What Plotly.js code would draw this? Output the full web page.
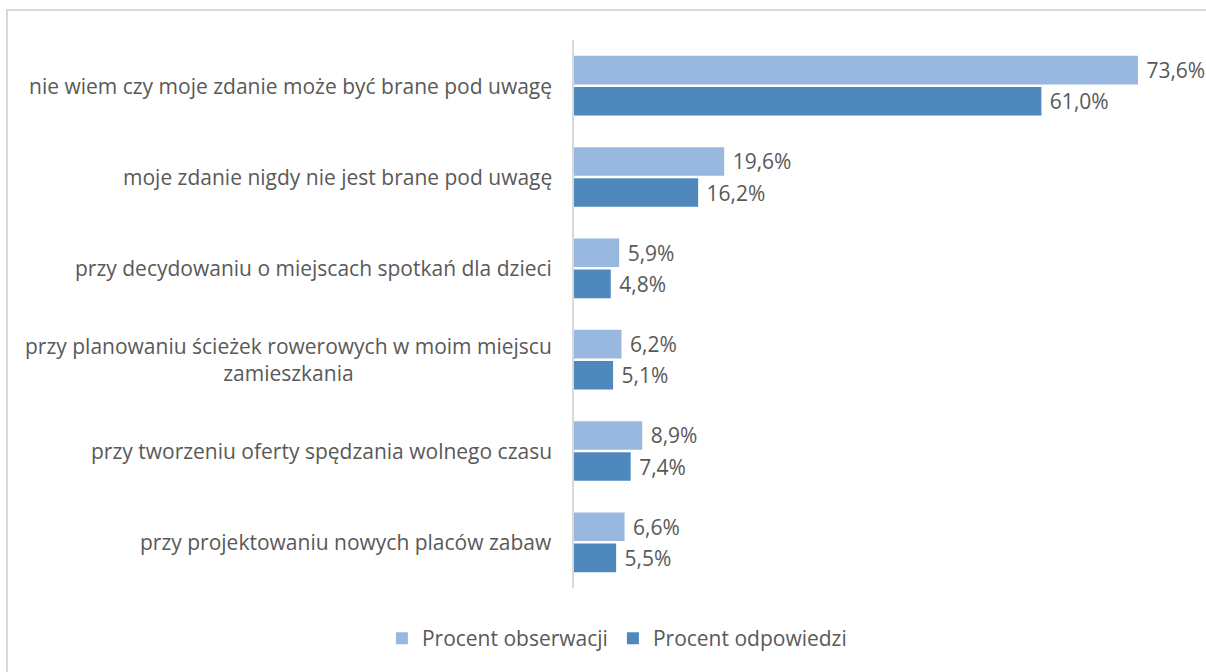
<!DOCTYPE html>
<html>
<head>
<meta charset="utf-8">
<script src="https://cdn.plot.ly/plotly-3.0.1.min.js"></script>
<style>
  html, body { margin: 0; padding: 0; background: #ffffff; overflow: hidden; }
  #frame { position: absolute; left: 6px; top: 9px; width: 1260px; height: 720px; border: 2px solid #d9d9d9; box-sizing: border-box; }
  #chart { position: absolute; left: 0; top: 0; width: 1206px; height: 672px; }
</style>
</head>
<body>
<div id="frame"></div>
<div id="chart"></div>
<script>
const categories = [
  "nie wiem czy moje zdanie może być brane pod uwagę",
  "moje zdanie nigdy nie jest brane pod uwagę",
  "przy decydowaniu o miejscach spotkań dla dzieci",
  "przy planowaniu ścieżek rowerowych w moim miejscu<br>zamieszkania",
  "przy tworzeniu oferty spędzania wolnego czasu",
  "przy projektowaniu nowych placów zabaw"
];
const seriesNames = ["Procent obserwacji", "Procent odpowiedzi"];
const obserwacji = [73.6, 19.6, 5.9, 6.2, 8.9, 6.6];
const odpowiedzi = [61.0, 16.2, 4.8, 5.1, 7.4, 5.5];
const colors = ["#98B8E0", "#4F88BD"];

const fmt = v => "\u00a0" + v.toFixed(1).replace(".", ",") + "%";
const textFont = { family: "Open Sans, Lato, sans-serif", size: 21, color: "#595959" };

function barTrace(name, vals, color) {
  return {
    type: "bar", orientation: "h", name: name,
    y: categories, x: vals,
    marker: { color: color },
    text: vals.map(fmt), textposition: "outside",
    textfont: textFont, cliponaxis: false, constraintext: "none",
    hoverinfo: "skip"
  };
}

const data = [
  barTrace(seriesNames[0], obserwacji, colors[0]),
  barTrace(seriesNames[1], odpowiedzi, colors[1])
];

const annotations = categories.map(c => ({
  xref: "paper", yref: "y", x: 0, y: c,
  xanchor: "right", yanchor: "middle", xshift: -20,
  text: c, showarrow: false, align: "center",
  font: textFont
}));

const layout = {
  width: 1206, height: 672,
  paper_bgcolor: "rgba(0,0,0,0)", plot_bgcolor: "rgba(0,0,0,0)",
  margin: { l: 574, r: 19, t: 40, b: 84, autoexpand: false },
  barmode: "group", bargap: 0.32, bargroupgap: 0.08,
  font: textFont,
  xaxis: { range: [0, 80], showgrid: false, zeroline: false, showticklabels: false, showline: false, fixedrange: true },
  yaxis: { autorange: "reversed", showticklabels: false, showgrid: false, zeroline: false,
           showline: true, linecolor: "#d9d9d9", linewidth: 2, ticks: "", type: "category" },
  showlegend: true,
  legend: { orientation: "h", x: 0.07, xanchor: "center", y: -0.055, yanchor: "top",
            font: textFont, traceorder: "normal", itemwidth: 30 },
  annotations: annotations
};

Plotly.newPlot("chart", data, layout, { displayModeBar: false, staticPlot: true });
</script>
</body>
</html>
